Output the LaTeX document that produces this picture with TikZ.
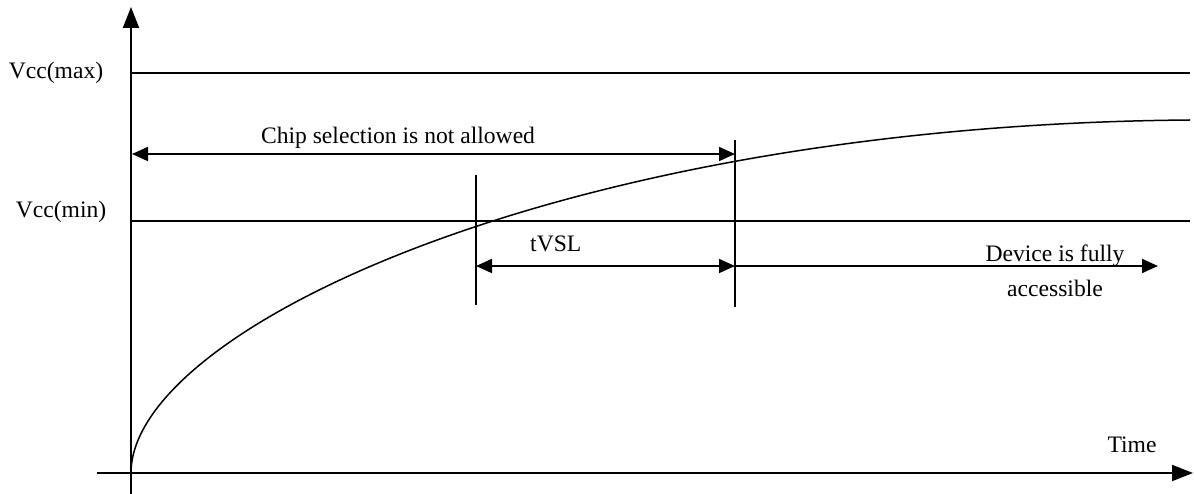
\documentclass[tikz,border=0pt]{standalone}
\usepackage{fontspec}
\setmainfont{Liberation Serif}
\usetikzlibrary{arrows.meta}
\begin{document}
\begin{tikzpicture}[x=1pt,y=-1pt,
  lbl/.style={inner sep=0pt, font=\fontsize{23.6}{28}\selectfont},
  axis/.style={line width=2pt, -{Triangle[length=21pt,width=16pt]}},
  level/.style={line width=1.3pt},
  marker/.style={line width=1.3pt},
  dim/.style={line width=1.8pt, {Triangle[length=16pt,width=14pt]}-{Triangle[length=16pt,width=14pt]}},
  dimr/.style={line width=1.8pt, -{Triangle[length=16pt,width=14pt]}}]
\useasboundingbox (0,0) rectangle (1194,494);
% coordinates
\coordinate (yb) at (131,494);
\coordinate (yt) at (131,7);
\coordinate (xl) at (97,473);
\coordinate (xr) at (1193,473);
\coordinate (o) at (131,473);
\coordinate (maxl) at (131,73);
\coordinate (maxr) at (1190,73);
\coordinate (minl) at (131,221);
\coordinate (minr) at (1190,221);
\coordinate (m1t) at (476,175);
\coordinate (m1b) at (476,305);
\coordinate (m2t) at (735,140);
\coordinate (m2b) at (735,307);
\coordinate (cl) at (132,154);
\coordinate (cr) at (735,154);
\coordinate (tl) at (476,266);
\coordinate (tr) at (735,266);
\coordinate (dr) at (1158,266);
\coordinate (ce) at (1190,120);
% axes
\draw[axis] (yb) -- (yt);
\draw[axis] (xl) -- (xr);
% levels
\draw[level] (maxl) -- (maxr);
\draw[level] (minl) -- (minr);
% curve
\draw[line width=1.5pt] (o) .. controls (131,330) and (560,125) .. (ce);
% markers
\draw[marker] (m1t) -- (m1b);
\draw[marker] (m2t) -- (m2b);
% dimension arrows
\draw[dim] (cl) -- (cr);
\draw[dim] (tl) -- (tr);
\draw[dimr] (tr) -- (dr);
% labels
\node[lbl] (vmax) at (56,73) {Vcc(max)};
\node[lbl] (vmin) at (61,212) {Vcc(min)};
\node[lbl] (chip) at (398,138) {Chip selection is not allowed};
\node[lbl,anchor=west] (tvsl) at (530,244) {tVSL};
\node[lbl] (dev1) at (1055,256) {Device is fully};
\node[lbl] (dev2) at (1055,288) {accessible};
\node[lbl] (time) at (1132,445) {Time};
\end{tikzpicture}
\end{document}
